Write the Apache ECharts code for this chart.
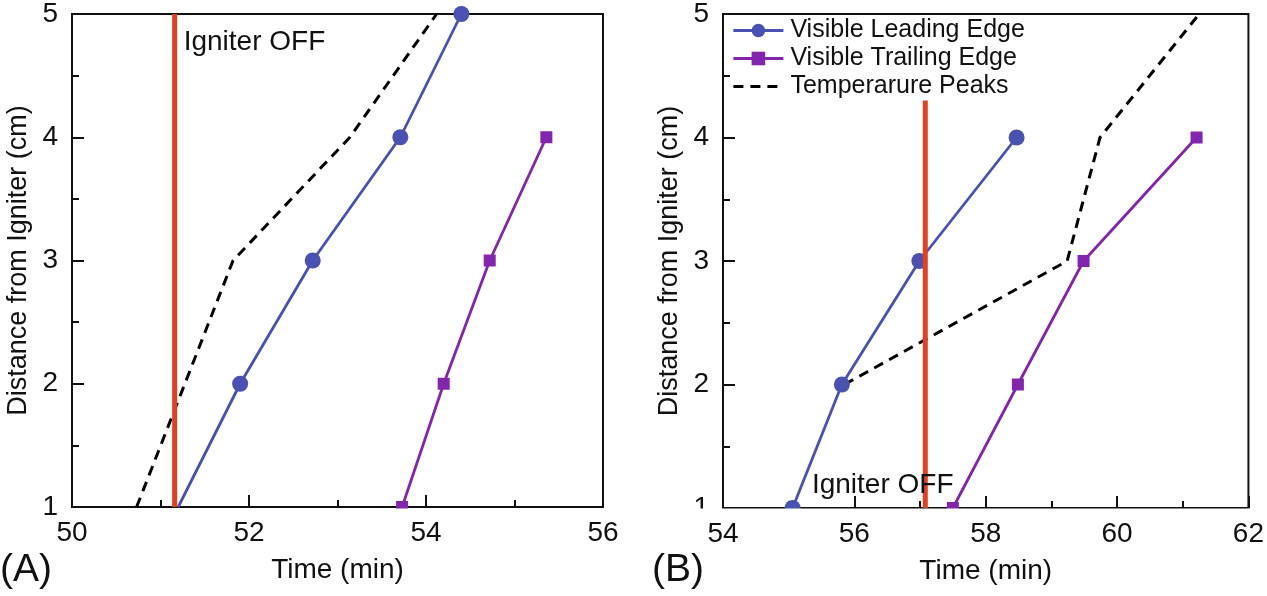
<!DOCTYPE html>
<html>
<head>
<meta charset="utf-8">
<script src="https://cdn.jsdelivr.net/npm/echarts@6/dist/echarts.min.js"></script>
<style>
html,body{margin:0;padding:0;background:#fff;}
#chart{width:1267px;height:596px;}
</style>
</head>
<body>
<div id="chart"></div>
<script>
// ---- Panel A data ----
const xTicksA = [50, 52, 54, 56];
const yTicks = [1, 2, 3, 4, 5];
const leadA_x = [51.2, 51.9, 52.72, 53.71, 54.4];
const leadA_y = [1, 2, 3, 4, 5];
const trailA_x = [53.73, 54.2, 54.72, 55.36];
const trailA_y = [1, 2, 3, 4];
const tempA_x = [50.73, 51.82, 53.14, 54.12];
const tempA_y = [1, 3, 4, 5];
const igniterA_x = 51.16;
const igniterA_y = [1, 5];

// ---- Panel B data ----
const xTicksB = [54, 56, 58, 60, 62];
const leadB_x = [55.06, 55.81, 56.99, 58.47];
const leadB_y = [1, 2, 3, 4];
const trailB_x = [57.5, 58.49, 59.49, 61.21];
const trailB_y = [1, 2, 3, 4];
const tempB_x = [55.85, 59.24, 59.74, 61.25];
const tempB_y = [2, 3, 4, 5];
const igniterB_x = 57.08;
const igniterB_y = [1, 4.3];

const seriesNames = ['Visible Leading Edge', 'Visible Trailing Edge', 'Temperarure Peaks'];
const FONT = 'Liberation Sans, Arial, Helvetica, sans-serif';
const BLUE = '#4951b3';
const PURPLE = '#8426ad';
const RED = '#e4401f';
const INK = '#111';

function pairs(xs, ys) { return xs.map((x, i) => [x, ys[i]]); }

function xAxis(idx, min, max) {
  return {
    type: 'value', gridIndex: idx, min: min, max: max, interval: 2,
    name: 'Time (min)', nameLocation: 'middle', nameGap: 49,
    nameTextStyle: { fontFamily: FONT, fontSize: 28, color: INK },
    axisLine: { show: true, onZero: false, lineStyle: { color: INK, width: 2 } },
    axisTick: { show: true, inside: true, length: 12, lineStyle: { color: INK, width: 2 } },
    minorTick: { show: true, splitNumber: 2, length: 7, lineStyle: { color: INK, width: 2 } },
    axisLabel: { fontFamily: FONT, fontSize: 28, color: INK, margin: 12 },
    splitLine: { show: false }
  };
}
function yAxis(idx) {
  return {
    type: 'value', gridIndex: idx, min: 1, max: 5, interval: 1,
    name: 'Distance from Igniter (cm)', nameLocation: 'middle', nameGap: 40,
    nameTextStyle: { fontFamily: FONT, fontSize: 27, color: INK },
    axisLine: { show: true, onZero: false, lineStyle: { color: INK, width: 2 } },
    axisTick: { show: true, inside: true, length: 12, lineStyle: { color: INK, width: 2 } },
    minorTick: { show: true, splitNumber: 2, length: 7, lineStyle: { color: INK, width: 2 } },
    axisLabel: { fontFamily: FONT, fontSize: 28, color: INK, margin: 14 },
    splitLine: { show: false }
  };
}

function leadSeries(idx, xs, ys, hideFirst) {
  return {
    name: seriesNames[0], type: 'line', xAxisIndex: idx, yAxisIndex: idx,
    data: pairs(xs, ys).map((p, i) => (hideFirst && i === 0) ? { value: p, symbol: 'none' } : p),
    symbol: 'circle', symbolSize: 16, clip: false,
    lineStyle: { color: BLUE, width: 2.8 }, itemStyle: { color: BLUE }, z: 3
  };
}
function trailSeries(idx, xs, ys) {
  return {
    name: seriesNames[1], type: 'line', xAxisIndex: idx, yAxisIndex: idx,
    data: pairs(xs, ys), symbol: 'rect', symbolSize: 12, clip: false,
    lineStyle: { color: PURPLE, width: 2.8 }, itemStyle: { color: PURPLE }, z: 3
  };
}
function tempSeries(idx, xs, ys) {
  return {
    name: seriesNames[2], type: 'line', xAxisIndex: idx, yAxisIndex: idx,
    data: pairs(xs, ys), symbol: 'none',
    lineStyle: { color: '#000', width: 3, type: [10, 7] }, itemStyle: { color: '#000' }, z: 3
  };
}
function igniterSeries(idx, x, ys) {
  return {
    name: 'igniter', type: 'line', xAxisIndex: idx, yAxisIndex: idx,
    data: ys.map(y => [x, y]), symbol: 'none',
    lineStyle: { color: RED, width: 5 }, z: 4, silent: true
  };
}
function labelSeries(idx, pos) {
  return {
    name: 'label', type: 'scatter', xAxisIndex: idx, yAxisIndex: idx,
    data: [pos], symbolSize: 1, z: 5, silent: true,
    itemStyle: { opacity: 1, color: 'rgba(0,0,0,0)' },
    label: { show: true, position: 'right', distance: 5, formatter: 'Igniter OFF',
      fontFamily: FONT, fontSize: 28, color: INK, opacity: 1 }
  };
}

const chart = echarts.init(document.getElementById('chart'), null, { renderer: 'canvas' });
chart.setOption({
  animation: false,
  backgroundColor: '#fff',
  grid: [
    { left: 72, right: 664, top: 11, bottom: 89, show: true, borderColor: INK, borderWidth: 2 },
    { left: 723, right: 15, top: 11, bottom: 88, show: true, borderColor: INK, borderWidth: 2 }
  ],
  xAxis: [xAxis(0, xTicksA[0], xTicksA[xTicksA.length - 1]), xAxis(1, xTicksB[0], xTicksB[xTicksB.length - 1])],
  yAxis: [yAxis(0), yAxis(1)],
  legend: {
    data: [
      { name: seriesNames[0] },
      { name: seriesNames[1] },
      { name: seriesNames[2], itemStyle: { opacity: 0 } }
    ],
    orient: 'vertical', left: 727, top: 13,
    itemWidth: 50, itemHeight: 17, itemGap: 3,
    lineStyle: { width: 2.8 },
    textStyle: { fontFamily: FONT, fontSize: 25, color: INK, lineHeight: 25, padding: [0, 0, 0, 2] },
    selectedMode: false
  },
  graphic: [
    { type: 'rect', shape: { x: 60, y: 508.5, width: 1200, height: 10 }, style: { fill: '#fff' }, z: 50, silent: true },
    { type: 'text', left: 0, top: 551, style: { text: '(A)', fontFamily: FONT, fontSize: 39, fill: INK } },
    { type: 'text', left: 652, top: 551, style: { text: '(B)', fontFamily: FONT, fontSize: 39, fill: INK } }
  ],
  series: [
    leadSeries(0, leadA_x, leadA_y, true),
    trailSeries(0, trailA_x, trailA_y),
    tempSeries(0, tempA_x, tempA_y),
    igniterSeries(0, igniterA_x, igniterA_y),
    labelSeries(0, [51.2, 4.77]),
    leadSeries(1, leadB_x, leadB_y, false),
    trailSeries(1, trailB_x, trailB_y),
    tempSeries(1, tempB_x, tempB_y),
    igniterSeries(1, igniterB_x, igniterB_y),
    labelSeries(1, [55.27, 1.185])
  ]
});
</script>
</body>
</html>
